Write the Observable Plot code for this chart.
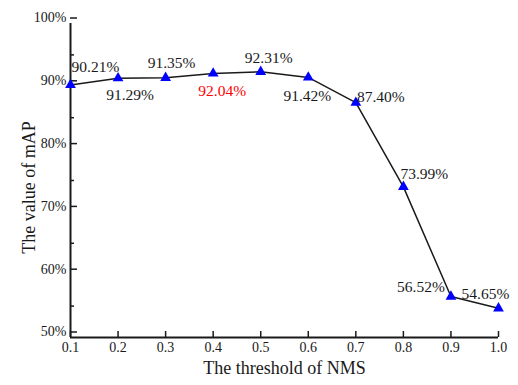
<!DOCTYPE html>
<html>
<head>
<meta charset="utf-8">
<script src="https://cdn.jsdelivr.net/npm/d3@7"></script>
<script src="https://cdn.jsdelivr.net/npm/@observablehq/plot@0.6"></script>
<style>
  html, body { margin: 0; padding: 0; background: #fff; }
</style>
</head>
<body>
<div id="chart"></div>
<script>
// ---- data ----
const thresholds = [0.1, 0.2, 0.3, 0.4, 0.5, 0.6, 0.7, 0.8, 0.9, 1.0];
const mapValues = [90.21, 91.29, 91.35, 92.04, 92.31, 91.42, 87.40, 73.99, 56.52, 54.65];
const valueLabels = ["90.21%", "91.29%", "91.35%", "92.04%", "92.31%", "91.42%", "87.40%", "73.99%", "56.52%", "54.65%"];
const highlightIndex = 3;
const yTicks = [50, 60, 70, 80, 90, 100];
const yTickLabels = ["50%", "60%", "70%", "80%", "90%", "100%"];
const yMinorTicks = [55, 65, 75, 85, 95];
const xTickLabels = ["0.1", "0.2", "0.3", "0.4", "0.5", "0.6", "0.7", "0.8", "0.9", "1.0"];
const xTitle = "The threshold of NMS";
const yTitle = "The value of mAP";

// ---- layout (label placement offsets in px, style only) ----
const labelOffsets = [[25, -18], [12, 17], [6, -15], [9, 18], [8, -14], [-1, 19], [25, -6], [21, -13], [-30, -10], [-13, -14]];

const rows = thresholds.map((t, i) => ({t, v: mapValues[i], label: valueLabels[i], i}));

const font = "'Liberation Serif', 'Times New Roman', Times, serif";
const ink = "#1a1a1a";

const labelMarks = rows.map((d, i) =>
  Plot.text([d], {
    x: "t", y: "v", text: "label",
    dx: labelOffsets[i][0], dy: labelOffsets[i][1],
    fontSize: 15.5, fontFamily: font,
    fill: i === highlightIndex ? "#ff0000" : ink
  })
);

const plot = Plot.plot({
  width: 518,
  height: 385,
  marginLeft: 70,
  marginRight: 20,
  marginTop: 23,
  marginBottom: 48,
  style: {fontFamily: font, fontSize: "14px", background: "#fff", color: ink},
  x: {domain: [0.1, 1.0]},
  y: {domain: [50, 100]},
  marks: [
    Plot.axisY(yTicks, {
      tickSize: -7, tickPadding: 11, dy: -5.5, strokeWidth: 1.5, fontSize: 14, fontFamily: font,
      tickFormat: d => yTickLabels[yTicks.indexOf(d)], label: null
    }),
    Plot.axisY(yMinorTicks, {
      tickSize: -4, strokeWidth: 1.5, tickFormat: () => "", label: null
    }),
    Plot.axisX(thresholds, {
      tickSize: -6, tickPadding: 11, strokeWidth: 1.5, fontSize: 14, fontFamily: font,
      tickFormat: d => xTickLabels[thresholds.indexOf(d)], label: null
    }),
    Plot.ruleX([thresholds[0]], {stroke: ink, strokeWidth: 2}),
    Plot.ruleY([yTicks[0]], {stroke: ink, strokeWidth: 2}),
    Plot.line(rows, {x: "t", y: "v", stroke: ink, strokeWidth: 1.5, curve: "linear"}),
    Plot.dot(rows, {x: "t", y: "v", symbol: "triangle", r: 4, fill: "#0000ff", stroke: "none"}),
    ...labelMarks,
    Plot.text([xTitle], {frameAnchor: "bottom", dy: 31, lineAnchor: "middle", textAnchor: "middle", fontSize: 18, fontFamily: font, fill: ink}),
    Plot.text([yTitle], {frameAnchor: "left", dx: -41, dy: 7, rotate: -90, lineAnchor: "middle", textAnchor: "middle", fontSize: 18, fontFamily: font, fill: ink})
  ]
});

document.getElementById("chart").append(plot);
</script>
</body>
</html>
